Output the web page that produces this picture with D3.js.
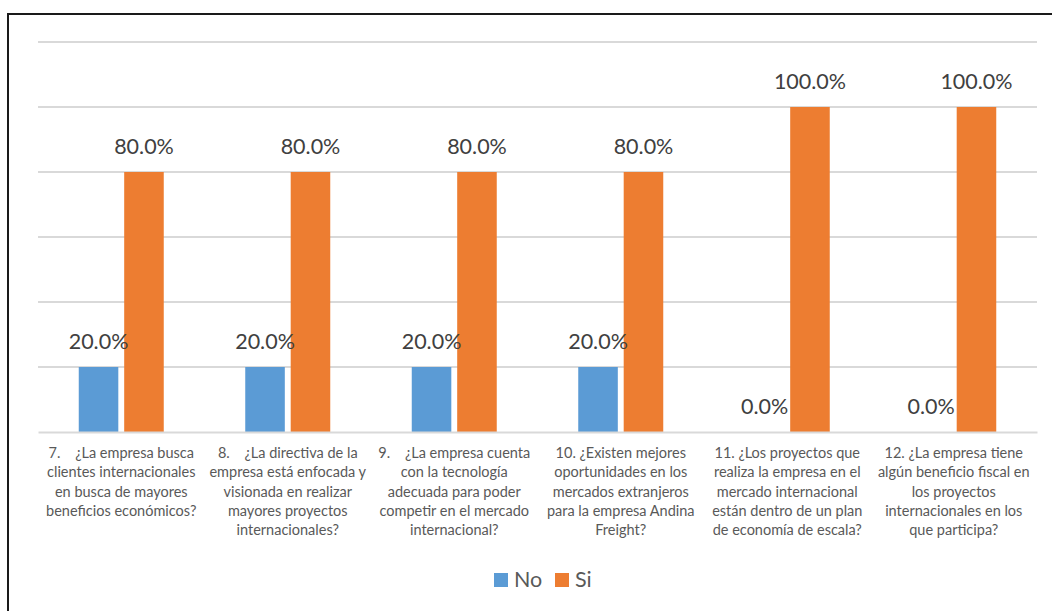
<!DOCTYPE html>
<html>
<head>
<meta charset="utf-8">
<script src="https://cdn.jsdelivr.net/npm/d3@7"></script>
<style>
  html, body { margin: 0; padding: 0; background: #fff; }
  svg { display: block; }
</style>
</head>
<body>
<svg id="chart" width="1052" height="611"></svg>
<script>
// Survey questions (line breaks follow the wrapped axis labels)
const categories = [
  "7.    ¿La empresa busca\nclientes internacionales\nen busca de mayores\nbeneficios económicos?",
  "8.    ¿La directiva de la\nempresa está enfocada y\nvisionada en realizar\nmayores proyectos\ninternacionales?",
  "9.    ¿La empresa cuenta\ncon la tecnología\nadecuada para poder\ncompetir en el mercado\ninternacional?",
  "10. ¿Existen mejores\noportunidades en los\nmercados extranjeros\npara la empresa Andina\nFreight?",
  "11. ¿Los proyectos que\nrealiza la empresa en el\nmercado internacional\nestán dentro de un plan\nde economía de escala?",
  "12. ¿La empresa tiene\nalgún beneficio fiscal en\nlos proyectos\ninternacionales en los\nque participa?"
];
const seriesNames = ["No", "Si"];
const noValues = [0.20, 0.20, 0.20, 0.20, 0.00, 0.00];
const siValues = [0.80, 0.80, 0.80, 0.80, 1.00, 1.00];
const yTicks = [0, 0.2, 0.4, 0.6, 0.8, 1.0, 1.2];
const colors = ["#5B9BD5", "#ED7D31"];

const svg = d3.select("#chart");
const W = 1052, H = 611;
const plot = { left: 38, right: 1037, top: 42, bottom: 432 };

// Outer frame (only top and left edges fall inside the view)
svg.append("path")
  .attr("d", `M8,${H} L8,14 L${W},14`)
  .attr("fill", "none")
  .attr("stroke", "#1a1a1a")
  .attr("stroke-width", 2);

const x0 = d3.scaleBand()
  .domain(d3.range(categories.length))
  .range([plot.left, plot.right])
  .paddingInner(0)
  .paddingOuter(0);

const barW = 37, barGap = 11;
const x1 = d3.scaleBand()
  .domain(seriesNames)
  .range([-(barW + barGap / 2), barW + barGap / 2])
  .paddingInner(barGap / (barW * 2 + barGap))
  .paddingOuter(0);

const y = d3.scaleLinear().domain([0, 1.2]).range([plot.bottom, plot.top]);

// Horizontal gridlines
svg.append("g")
  .selectAll("line")
  .data(yTicks.filter(t => t > 0))
  .join("line")
  .attr("x1", plot.left).attr("x2", plot.right)
  .attr("y1", d => y(d)).attr("y2", d => y(d))
  .attr("stroke", "#D9D9D9")
  .attr("stroke-width", 2);

// Bars
const data = categories.map((c, i) => ({ i, values: [noValues[i], siValues[i]] }));
const groups = svg.append("g")
  .selectAll("g")
  .data(data)
  .join("g")
  .attr("transform", d => `translate(${x0(d.i) + x0.bandwidth() / 2},0)`);

groups.selectAll("rect")
  .data(d => d.values.map((v, k) => ({ v, k })))
  .join("rect")
  .attr("x", d => x1(seriesNames[d.k]))
  .attr("width", x1.bandwidth())
  .attr("y", d => y(d.v))
  .attr("height", d => y(0) - y(d.v))
  .attr("fill", d => colors[d.k]);

// Value labels
groups.selectAll("text.val")
  .data(d => d.values.map((v, k) => ({ v, k })))
  .join("text")
  .attr("class", "val")
  .attr("x", d => x1(seriesNames[d.k]) + x1.bandwidth() / 2)
  .attr("y", d => y(d.v) - 18)
  .attr("text-anchor", "middle")
  .attr("font-family", "Lato, 'Open Sans', sans-serif")
  .attr("font-size", 21.5)
  .attr("fill", "#404040")
  .text(d => d3.format(".1%")(d.v));

// Category axis
const xAxis = d3.axisBottom(x0).tickSize(0).tickFormat("");
const axisG = svg.append("g")
  .attr("transform", `translate(0,${plot.bottom})`)
  .call(xAxis);
axisG.select(".domain").attr("stroke", "#D9D9D9").attr("stroke-width", 2);

axisG.selectAll(".tick").each(function(d) {
  const t = d3.select(this).append("text")
    .attr("text-anchor", "middle")
    .attr("font-family", "Lato, 'Open Sans', sans-serif")
    .attr("font-size", 14.5)
    .attr("fill", "#595959")
    .style("white-space", "pre");
  categories[d].split("\n").forEach((line, li) => {
    t.append("tspan")
      .attr("x", 0)
      .attr("y", 26 + li * 19.3)
      .text(line);
  });
});

// Legend
const legend = svg.append("g").attr("transform", "translate(494,573)");
const legendItems = [{ name: "No", x: 0 }, { name: "Si", x: 61 }];
legendItems.forEach((it, k) => {
  legend.append("rect")
    .attr("x", it.x).attr("y", 0)
    .attr("width", 14).attr("height", 14)
    .attr("fill", colors[k]);
  legend.append("text")
    .attr("x", it.x + 20).attr("y", 14)
    .attr("font-family", "Lato, 'Open Sans', sans-serif")
    .attr("font-size", 21.5)
    .attr("fill", "#595959")
    .text(it.name);
});
</script>
</body>
</html>
